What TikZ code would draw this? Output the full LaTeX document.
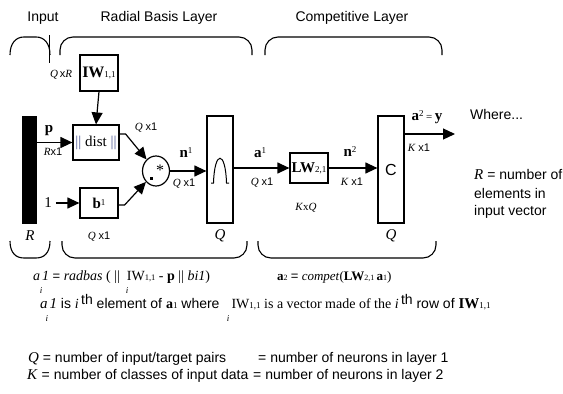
\documentclass[tikz,border=0pt]{standalone}
\usepackage{fontspec}
\setmainfont{Liberation Serif}
\newfontfamily\arial{Liberation Sans}
\usetikzlibrary{arrows.meta,shapes.geometric}
\newcommand\myfs[1]{\fontsize{#1}{#1}\selectfont}
\newcommand\qxone{{\myfs{11}\textit{Q} {\arial x1}}}
\newcommand\kxone{{\myfs{11}\textit{K} {\arial x1}}}
\definecolor{distc}{RGB}{80,90,150}
\begin{document}
\begin{tikzpicture}[x=1pt,y=-1pt,
  box/.style={draw,line width=1.2pt,inner sep=0pt},
  arr/.style={line width=1.2pt,-{Triangle[length=12pt,width=11pt]}},
  brc/.style={line width=1.1pt},
  lbl/.style={inner sep=0pt}]
\useasboundingbox (0,0) rectangle (563,394);
% braces top
\draw[brc] (10,55) .. controls (10,43) and (16,37) .. (24,37) -- (36,37) .. controls (44,37) and (50,43) .. (50,55);
\draw[brc,rounded corners=13] (60,55) -- (60,37) -- (252,37) -- (252,55);
\draw[brc,rounded corners=13] (265,55) -- (265,37) -- (442,37) -- (442,55);
% braces bottom
\draw[brc] (10,241) .. controls (10,253) and (16,258) .. (24,258) -- (36,258) .. controls (44,258) and (50,253) .. (50,241);
\draw[brc,rounded corners=13] (62,241) -- (62,258) -- (247,258) -- (247,241);
\draw[brc,rounded corners=13] (258,241) -- (258,258) -- (436,258) -- (436,241);
% leader line
\coordinate (lt) at (49,35);
\coordinate (lb) at (49,63);
\draw[line width=0.8pt] (lt) -- (lb);
% titles
\node[lbl] (inp) at (43,18) {\arial\myfs{14}Input};
\node[lbl] (rbl) at (159,18) {\arial\myfs{14}Radial Basis Layer};
\node[lbl] (cpl) at (352,18) {\arial\myfs{14}Competitive Layer};
% blocks
\node[box,fill=black,minimum width=13,minimum height=106] (bar) at (29.5,170) {};
\node[box,minimum width=38,minimum height=36] (iw) at (99,73) {\myfs{16}\textbf{IW}\myfs{9}1,1};
\node[box,minimum width=46,minimum height=35] (dist) at (96,142.5) {\myfs{15}\textcolor{distc}{||} dist \textcolor{distc}{||}};
\node[box,minimum width=38,minimum height=30] (bb) at (99,203) {\myfs{15}\textbf{b}\raisebox{3pt}{\myfs{9}1}};
\node[box,ellipse,minimum width=27,minimum height=30] (circ) at (156,171) {};
\node[box,minimum width=26,minimum height=107] (rb) at (220,169.5) {};
\node[box,minimum width=38,minimum height=30] (lw) at (309,168) {\myfs{15}\textbf{LW}\myfs{9}2,1};
\node[box,minimum width=26,minimum height=107] (cc) at (391,169.5) {\arial\myfs{16}C};
% circle content
\fill (150,177) rectangle (153,180);
\node[lbl] (ast) at (160,170) {\myfs{16}*};
% bell curve
\draw[line width=1pt] (211,183) -- (213.5,183) .. controls (214.5,150) and (225.5,150) .. (226.5,183) -- (229,183);
% input one
\node[lbl] (one) at (48,203) {\myfs{15}1};
% connectors
\draw[arr] (bar.east |- dist.west) -- (dist.west);
\draw[arr] (iw.south) -- (dist.north);
\draw[arr] ([xshift=4pt]one.east) -- (bb.west |- one.east);
\draw[arr] ([yshift=8.5pt]dist.east) -- ++(6,0) -- (circ);
\draw[arr] ([yshift=-2pt]bb.east) -- ++(6,0) -- (circ);
\draw[arr] (circ.east) -- (rb.west |- circ.east);
\draw[arr] (rb.east |- lw.west) -- (lw.west);
\draw[arr] (lw.east) -- (cc.west |- lw.east);
\coordinate (out) at (455,134);
\draw[arr] (cc.east |- out) -- (out);
% labels
\node[lbl] (qxr) at (61,75) {\myfs{11}\textit{Q}\,{\arial x}\textit{R}};
\node[lbl] (plab) at (49,131) {\myfs{15}\textbf{p}};
\node[lbl] (rx1) at (53,152) {\myfs{11}\textit{R}{\arial x1}};
\node[lbl] (qa) at (146,128) {\qxone};
\node[lbl] (qb) at (99,237) {\qxone};
\node[lbl] (n1) at (186,153) {\myfs{15}\textbf{n}\raisebox{4pt}{\myfs{9}1}};
\node[lbl] (qc) at (184,184) {\qxone};
\node[lbl] (a1) at (260,153) {\myfs{15}\textbf{a}\raisebox{4pt}{\myfs{9}1}};
\node[lbl] (qd) at (262,183) {\qxone};
\node[lbl] (kxq) at (306,208) {\myfs{11}\textit{K}x\textit{Q}};
\node[lbl] (n2) at (350,152) {\myfs{15}\textbf{n}\raisebox{4pt}{\myfs{9}2}};
\node[lbl] (ka) at (352,182) {\kxone};
\node[lbl] (a2y) at (427,117) {\myfs{15}\textbf{a}\raisebox{4pt}{\myfs{9}2}\,{\myfs{11}=}\,\textbf{y}};
\node[lbl] (kb) at (419,148) {\kxone};
\node[lbl] (rl) at (30,236) {\myfs{15}\textit{R}};
\node[lbl] (ql1) at (220,236) {\myfs{15}\textit{Q}};
\node[lbl] (ql2) at (391,236) {\myfs{15}\textit{Q}};
% where text
\node[lbl,anchor=west] (where) at (470,114) {\arial\myfs{14}Where...};
\node[lbl,anchor=west] (w1) at (474,174) {\myfs{15}\textit{R}\arial\myfs{14} = number of};
\node[lbl,anchor=west] (w2) at (474,193) {\arial\myfs{14}elements in};
\node[lbl,anchor=west] (w3) at (474,212) {\arial\myfs{14}input vector};
% equations
\node[lbl,anchor=west] (eq1) at (33,277) {\myfs{14}\textit{a}\hspace{2pt}\textit{1} {\arial\myfs{13}=} \textit{radbas} ( ||\hspace{7pt}IW{\myfs{8.5}1,1} - \textbf{p} || \textit{bi1})};
\node[lbl] (i1) at (41,290.5) {\myfs{9}\textit{i}};
\node[lbl] (i2) at (127,290.5) {\myfs{9}\textit{i}};
\node[lbl,anchor=west] (eq2) at (277,277) {\myfs{13}\textbf{a}{\myfs{8}2} {\arial=} \textit{compet}(\textbf{LW}{\myfs{8}2,1}\,\textbf{a}{\myfs{8}1})};
\node[lbl,anchor=west] (ln2) at (40,302) {\myfs{15}\textit{a}\hspace{2pt}\textit{1} \arial\myfs{14}is \textrm{\textit{i}}\,\raisebox{4pt}{th} element of \textrm{\textbf{a}{\myfs{9}1}} where\hspace{12pt}\textrm{IW{\myfs{9}1,1} is a vector made of the \textit{i}}\,\raisebox{4pt}{th} row of \textrm{\myfs{15}\textbf{IW}{\myfs{9}1,1}}};
\node[lbl] (i3) at (47,319) {\myfs{9}\textit{i}};
\node[lbl] (i4) at (228,319) {\myfs{9}\textit{i}};
% bottom rows
\node[lbl,anchor=west] (qr1) at (28,359) {\myfs{15}\textit{Q}\arial\myfs{14} = number of input/target pairs};
\node[lbl,anchor=west] (qr2) at (258,359) {\arial\myfs{14}= number of neurons in layer 1};
\node[lbl,anchor=west] (kr1) at (27,376) {\myfs{15}\textit{K}\arial\myfs{14} = number of classes of input data};
\node[lbl,anchor=west] (kr2) at (253,376) {\arial\myfs{14}= number of neurons in layer 2};
\end{tikzpicture}
\end{document}
